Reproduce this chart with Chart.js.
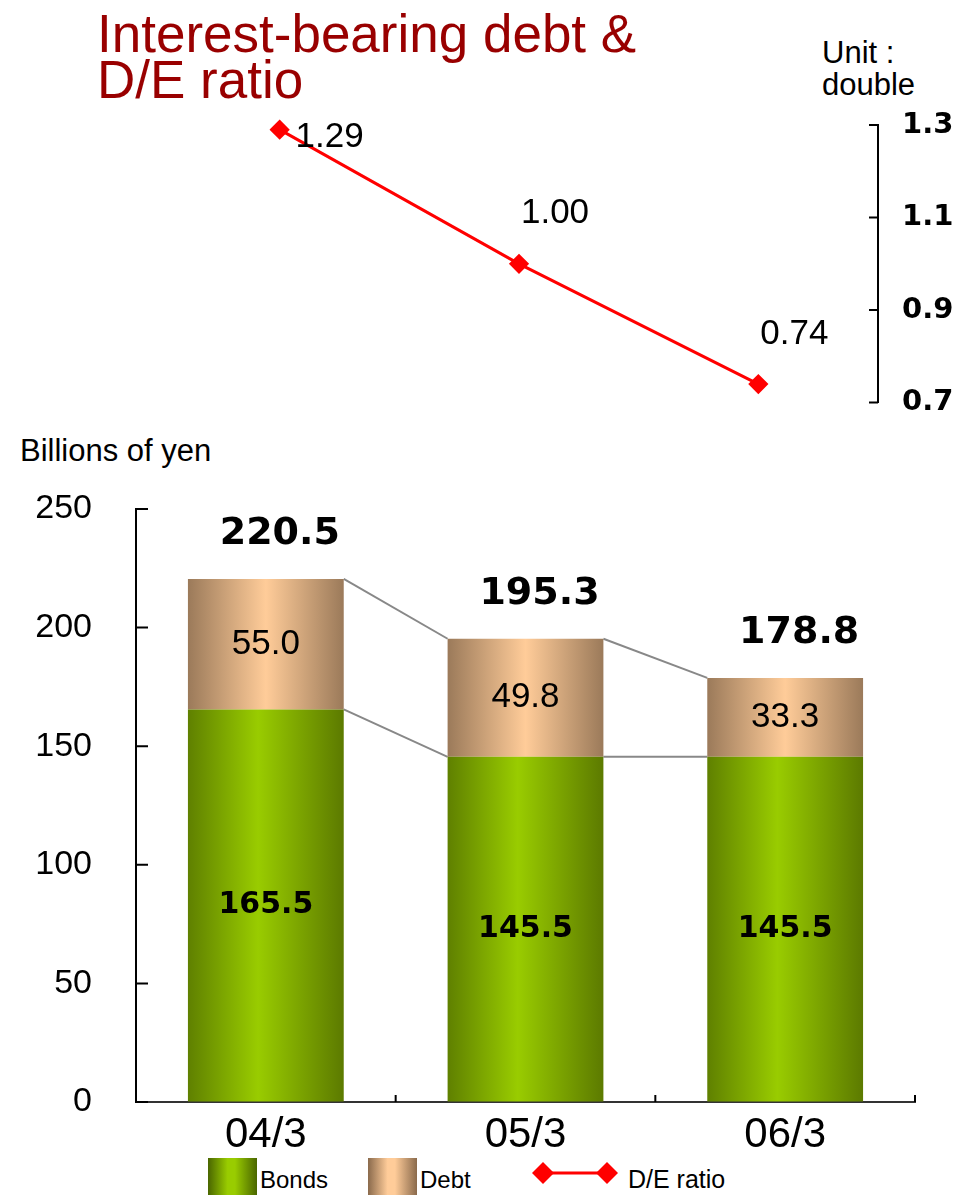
<!DOCTYPE html>
<html>
<head>
<meta charset="utf-8">
<script src="https://cdn.jsdelivr.net/npm/chart.js@4"></script>
<style>
  body { margin: 0; background: #fff; font-family: "Liberation Sans", Arial, sans-serif; }
  #page { position: relative; width: 959px; height: 1195px; overflow: hidden; }
  .txt { position: absolute; white-space: nowrap; color: #000; }
  #title { left: 97px; top: 11px; font-size: 53px; line-height: 46px; color: #990000; }
  #unit { left: 822px; top: 37px; font-size: 31px; line-height: 32px; }
  #yen { left: 20px; top: 435px; font-size: 31px; line-height: 31px; }
  #lineBox { position: absolute; left: 0; top: 0; width: 959px; height: 420px; }
  #barBox { position: absolute; left: 0; top: 470px; width: 959px; height: 680px; }
  .sw { position: absolute; top: 1158px; width: 49px; height: 37px; }
  .lg { position: absolute; font-size: 24px; line-height: 24px; top: 1168px; }
</style>
</head>
<body>
<div id="page">
  <div id="title" class="txt">Interest-bearing debt &amp;<br>D/E ratio</div>
  <div id="unit" class="txt">Unit :<br>double</div>
  <div id="yen" class="txt">Billions of yen</div>
  <div id="lineBox"><canvas id="lineChart"></canvas></div>
  <div id="barBox"><canvas id="barChart"></canvas></div>

  <div class="sw" style="left:208px;background:linear-gradient(to right,#4a6600 0%,#99cc00 40%,#99cc00 55%,#4a6600 100%);"></div>
  <div class="txt lg" style="left:260px;">Bonds</div>
  <div class="sw" style="left:368px;background:linear-gradient(to right,#8a6a4c 0%,#ffcc99 40%,#ffcc99 55%,#8a6a4c 100%);"></div>
  <div class="txt lg" style="left:420px;">Debt</div>
  <svg style="position:absolute;left:530px;top:1158px;" width="92" height="30">
    <line x1="13" y1="15" x2="77" y2="15" stroke="#ff0000" stroke-width="3"/>
    <polygon points="13,4 24,15 13,26 2,15" fill="#ff0000"/>
    <polygon points="77,4 88,15 77,26 66,15" fill="#ff0000"/>
  </svg>
  <div class="txt lg" style="left:628px;font-size:25px;line-height:25px;top:1167px;">D/E ratio</div>
</div>

<script>
// fiscal year ends
var periods = ['04/3', '05/3', '06/3'];
// billions of yen
var bonds = [165.5, 145.5, 145.5];
var debt = [55.0, 49.8, 33.3];
// debt / equity, times
var deRatio = [1.29, 1.00, 0.74];
var ratioTicks = [0.7, 0.9, 1.1, 1.3];
var yenTicks = [0, 50, 100, 150, 200, 250];

Chart.defaults.font.family = '"Liberation Sans", Arial, sans-serif';
Chart.defaults.color = '#000';

var BOLD = '"DejaVu Sans", Verdana, sans-serif';

// grid kept on only to reserve room between axis line and labels
var spacer = function (len) {
  return { display: true, drawOnChartArea: false, drawTicks: true, tickLength: len, color: 'rgba(0,0,0,0)' };
};

// short tick marks drawn on the inner side of the axis line
var innerTicks = {
  id: 'innerTicks',
  afterDraw: function (chart) {
    var c = chart.ctx;
    c.save();
    c.strokeStyle = '#000';
    c.lineWidth = 2;
    Object.keys(chart.scales).forEach(function (id) {
      var s = chart.scales[id];
      var len = s.options.innerTick;
      if (!len || !s.options.display) return;
      c.beginPath();
      if (s.isHorizontal()) {
        for (var i = 1; i <= s.ticks.length; i++) {
          var x = s.getPixelForValue(i - 0.5);
          c.moveTo(x, s.top);
          c.lineTo(x, s.top - len);
        }
      } else {
        s.ticks.forEach(function (t, i) {
          var y = s.getPixelForTick(i);
          if (s.position === 'left') {
            c.moveTo(s.right, y);
            c.lineTo(s.right + len, y);
          } else {
            c.moveTo(s.left, y);
            c.lineTo(s.left - len, y);
          }
        });
      }
      c.stroke();
    });
    c.restore();
  }
};

// ratio values next to each point
var ratioLabels = {
  id: 'ratioLabels',
  afterDatasetsDraw: function (chart) {
    var c = chart.ctx;
    var meta = chart.getDatasetMeta(0);
    c.save();
    c.font = '35px "Liberation Sans", Arial, sans-serif';
    c.fillStyle = '#000';
    c.textAlign = 'center';
    c.textBaseline = 'middle';
    meta.data.forEach(function (p, i) {
      var x = p.x + 36, y = p.y - 50;
      if (y < chart.chartArea.top) { x = p.x + 50; y = p.y + 8; }
      c.fillText(deRatio[i].toFixed(2), x, y);
    });
    c.restore();
  }
};

new Chart(document.getElementById('lineChart'), {
  type: 'line',
  data: {
    labels: periods,
    datasets: [{
      label: 'D/E ratio',
      data: deRatio,
      borderColor: '#ff0000',
      backgroundColor: '#ff0000',
      borderWidth: 3,
      pointStyle: 'rectRot',
      pointRadius: 8,
      clip: false,
      tension: 0
    }]
  },
  options: {
    responsive: true,
    maintainAspectRatio: false,
    animation: false,
    events: [],
    layout: { padding: { left: 160, top: 125, bottom: 17, right: 0 } },
    plugins: { legend: { display: false }, tooltip: { enabled: false } },
    scales: {
      x: { type: 'category', offset: true, display: false },
      y: {
        position: 'right',
        min: 0.7, max: 1.3,
        innerTick: 9,
        afterFit: function (s) { s.width = 81; },
        afterBuildTicks: function (s) { s.ticks = ratioTicks.map(function (v) { return { value: v }; }); },
        grid: spacer(24),
        border: { display: true, color: '#000', width: 2 },
        ticks: {
          padding: 0,
          font: { family: BOLD, size: 29, weight: 'bold' },
          callback: function (v) { return Number(v).toFixed(1); }
        }
      }
    }
  },
  plugins: [innerTicks, ratioLabels]
});

function barFill(stops) {
  return function (ctx) {
    var x = ctx.chart.scales.x;
    var fallback = stops[1][1];
    if (!x || ctx.dataIndex === undefined) return fallback;
    var cx = x.getPixelForValue(ctx.dataIndex);
    var w = x.width / periods.length * 0.6;
    if (!isFinite(cx) || !isFinite(w) || w <= 0) return fallback;
    var g = ctx.chart.ctx.createLinearGradient(cx - w / 2, 0, cx + w / 2, 0);
    stops.forEach(function (st) { g.addColorStop(st[0], st[1]); });
    return g;
  };
}

// grey lines joining the segment tops of neighbouring bars
var connectors = {
  id: 'connectors',
  beforeDatasetsDraw: function (chart) {
    var c = chart.ctx;
    c.save();
    c.strokeStyle = '#888888';
    c.lineWidth = 2;
    chart.data.datasets.forEach(function (ds, di) {
      var bars = chart.getDatasetMeta(di).data;
      for (var i = 0; i < bars.length - 1; i++) {
        var a = bars[i], b = bars[i + 1];
        c.beginPath();
        c.moveTo(a.x + a.width / 2, a.y);
        c.lineTo(b.x - b.width / 2, b.y);
        c.stroke();
      }
    });
    c.restore();
  }
};

// segment values inside the bars and totals above them
var barLabels = {
  id: 'barLabels',
  afterDatasetsDraw: function (chart) {
    var c = chart.ctx;
    c.save();
    c.fillStyle = '#000';
    c.textAlign = 'center';
    c.textBaseline = 'middle';
    var bondBars = chart.getDatasetMeta(0).data;
    var debtBars = chart.getDatasetMeta(1).data;
    c.font = 'bold 30px ' + BOLD;
    bondBars.forEach(function (el, i) {
      c.fillText(bonds[i].toFixed(1), el.x, (el.y + el.base) / 2);
    });
    c.font = '35px "Liberation Sans", Arial, sans-serif';
    debtBars.forEach(function (el, i) {
      c.fillText(debt[i].toFixed(1), el.x, (el.y + el.base) / 2);
    });
    c.font = 'bold 38px ' + BOLD;
    debtBars.forEach(function (el, i) {
      c.fillText((bonds[i] + debt[i]).toFixed(1), el.x + 14, el.y - 45);
    });
    c.restore();
  }
};

new Chart(document.getElementById('barChart'), {
  type: 'bar',
  data: {
    labels: periods,
    datasets: [{
      label: 'Bonds',
      data: bonds,
      backgroundColor: barFill([[0, '#5f8000'], [0.45, '#99cc00'], [1, '#5c7a00']])
    }, {
      label: 'Debt',
      data: debt,
      backgroundColor: barFill([[0, '#9b7a5a'], [0.5, '#ffcc99'], [1, '#9b7a5a']])
    }]
  },
  options: {
    responsive: true,
    maintainAspectRatio: false,
    animation: false,
    events: [],
    barPercentage: 0.6,
    categoryPercentage: 1,
    layout: { padding: { left: 0, top: 39, bottom: 0, right: 44 } },
    plugins: { legend: { display: false }, tooltip: { enabled: false } },
    scales: {
      x: {
        stacked: true,
        innerTick: 7,
        afterFit: function (s) { s.height = 48; },
        grid: { display: false },
        border: { display: true, color: '#333', width: 2 },
        ticks: { padding: 0, font: { size: 42 } }
      },
      y: {
        stacked: true,
        min: 0, max: 250,
        innerTick: 12,
        afterFit: function (s) { s.width = 136; },
        afterBuildTicks: function (s) { s.ticks = yenTicks.map(function (v) { return { value: v }; }); },
        grid: spacer(44),
        border: { display: true, color: '#000', width: 2 },
        ticks: { padding: 0, font: { size: 34 } }
      }
    }
  },
  plugins: [connectors, barLabels, innerTicks]
});
</script>
</body>
</html>
